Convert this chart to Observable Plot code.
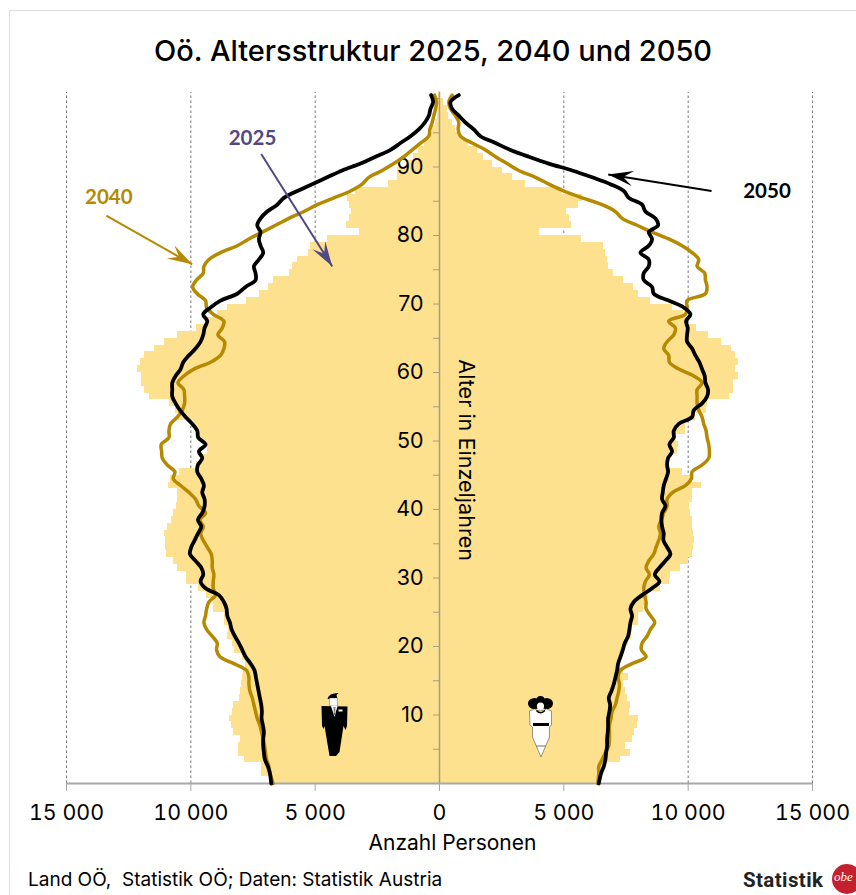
<!DOCTYPE html>
<html lang="de">
<head>
<meta charset="utf-8">
<script src="https://cdn.jsdelivr.net/npm/d3@7"></script>
<script src="https://cdn.jsdelivr.net/npm/@observablehq/plot@0.6"></script>
<style>
html,body{margin:0;padding:0;background:#fff;}
body{width:856px;height:895px;overflow:hidden;position:relative;font-family:Inter,"Liberation Sans",sans-serif;color:#000;}
#frame{position:absolute;left:9px;top:10px;width:900px;height:900px;border:1px solid #dedede;box-sizing:border-box;}
#title{position:absolute;left:0;top:32px;width:866px;text-align:center;font-size:29px;line-height:38px;font-weight:500;}
#chart{position:absolute;left:0;top:85px;}
#source{position:absolute;left:28px;top:869px;font-size:19px;line-height:22px;white-space:pre;}
#logoText{position:absolute;left:743px;top:868px;font:700 20.5px/24px Roboto,sans-serif;color:#222;letter-spacing:.4px;}
#logo{position:absolute;left:832px;top:864px;width:30px;height:30px;border-radius:50%;background:#c4202e;color:#fff;font:italic 13px/26px "Liberation Serif",serif;text-indent:2px;overflow:hidden;}
</style>
</head>
<body>
<div id="frame"></div>
<div id="title">Oö. Altersstruktur 2025, 2040 und 2050</div>
<div id="chart"></div>
<div id="source">Land OÖ,  Statistik OÖ; Daten: Statistik Austria</div>
<div id="logoText">Statistik</div>
<div id="logo">obe</div>
<script>
// Persons per single year of age, index = age 0..100
const men2025 = [6794,7142,7142,7839,8080,8080,8000,8268,8375,8429,8335,8295,8053,8000,7960,7933,7893,7799,7933,8241,8321,8509,8469,8643,8643,9072,9072,9367,9688,10171,10171,10519,10680,10975,11001,11001,11055,10948,10787,10707,10573,10519,10519,10894,10814,10439,9769,9608,9340,9340,9675,9675,9876,10479,10613,10841,11645,11859,11993,11993,12127,12020,11859,11457,11055,10546,9769,9340,8938,8536,7759,7223,6861,6660,6017,5909,5695,5266,5186,4516,3203,3739,3605,3551,3631,3712,3377,2064,1675,1675,1300,1032,831,603,362,295,161,94,67,27,27];
const women2025 = [6405,6472,6606,7276,7692,7477,7745,7826,7960,7986,7638,7678,7544,7477,7410,7584,7410,7276,7343,7450,7584,7718,7772,7986,8013,8214,8348,8415,8884,9246,9286,9688,10023,10157,10224,10264,10224,10184,10157,10090,10050,10157,10157,10532,10157,9782,9219,9152,9554,9594,9514,9889,9889,10291,10720,10760,11658,11832,11832,12033,11899,12033,11899,11738,11336,10827,10318,10023,9822,9380,8482,7986,7812,7410,7008,6807,6740,6673,6606,5695,4020,5306,5226,5092,5601,5735,4931,3457,2921,2519,2117,1782,1514,1152,844,643,509,375,308,174,40];
const men2040 = [6687,6821,6861,6955,6995,7035,7089,7156,7223,7330,7397,7464,7531,7625,7665,7665,7759,8268,8831,8965,8938,9139,9367,9474,9407,9367,9273,9005,9099,9099,9072,9139,9139,9179,9340,9501,9608,9501,9635,9407,9675,9809,10077,10412,10707,10640,10948,11149,11176,11189,10881,10881,10814,10546,10345,10251,10251,10278,10519,10278,9876,9206,8804,8670,8643,8911,8737,8670,9099,9367,9407,9742,9929,9769,9501,9474,9273,8804,8134,7665,7129,6593,6057,5454,4918,4248,3578,3109,2841,2305,1836,1434,1099,764,429,389,295,228,161,121,201];
const women2040 = [6365,6405,6405,6539,6673,6807,6834,6834,6834,6901,6941,7075,7142,7209,7236,7182,7276,7745,8308,8120,8147,8348,8482,8656,8482,8308,8308,8254,8214,8281,8442,8308,8415,8616,8710,8817,8884,8817,8924,9018,9152,9152,9380,9889,10130,10157,10559,10827,10854,10827,10760,10720,10626,10559,10425,10358,10358,10358,10559,10224,9621,9246,9219,9018,9152,9420,9487,9219,9889,9956,9956,10693,10760,10693,10666,10358,10425,10157,9755,9219,8549,7946,7343,7075,6539,5735,4998,4395,3859,3189,2720,2251,1849,1313,844,750,777,643,442,375,509];
const men2050 = [6767,6821,6901,7022,7062,7089,7089,7062,7102,7156,7142,7169,7223,7276,7330,7383,7437,7598,7799,7933,8067,8228,8362,8429,8536,8563,8670,8871,9407,9608,9501,9581,9809,10037,9983,9849,9715,9581,9715,9541,9447,9447,9541,9474,9581,9742,9715,9541,9675,9407,9702,9742,9943,10211,10439,10613,10747,10747,10747,10613,10412,10305,10077,9809,9608,9501,9447,9340,9501,9206,8804,8134,7799,7397,7397,7464,7263,7089,7196,7263,7196,7330,7196,6928,6526,6258,5722,5119,4516,3913,3176,2573,1970,1568,1166,831,590,429,362,255,335];
const women2050 = [6405,6499,6606,6673,6700,6740,6740,6767,6780,6780,6834,6861,6807,6914,7008,7075,7142,7182,7276,7370,7450,7584,7638,7678,7745,7678,7812,8147,8549,8844,8656,8844,9085,9286,9152,9005,9018,8951,8924,8951,9085,8951,8978,9018,9112,9192,9152,9192,9353,9246,9420,9420,9621,10157,10224,10559,10760,10800,10693,10666,10559,10452,10291,10157,9956,9956,9983,9916,10090,9822,9219,8616,8549,8214,8214,8415,8415,8080,8415,8549,8415,8790,8683,8281,8147,7611,7410,6874,6137,5333,4395,3591,2854,2251,1648,1380,1045,777,509,442,777];

const xTicks = [-15000,-10000,-5000,0,5000,10000,15000];
const gridValues = [-15000,-10000,-5000,5000,10000,15000];
const ageMinor = [0,5,10,15,20,25,30,35,40,45,50,55,60,65,70,75,80,85,90,95,100];
const ageLabels = [10,20,30,40,50,60,70,80,90];

const seriesLabels = [
  {text:"2040", x:-13300, y:85.6, color:"#B58900"},
  {text:"2025", x:-7520, y:94.2, color:"#4F4A86"},
  {text:"2050", x:13170, y:86.4, color:"#000000"}
];
const arrows = [
  {x1:-13400, y1:82.9, x2:-9945, y2:75.8, color:"#B58900", rotate:119.8},
  {x1:-7170, y1:91.9, x2:-4315, y2:75.5, color:"#4F4A86", rotate:147.6},
  {x1:10940, y1:86.5, x2:6785, y2:88.9, color:"#000000", rotate:279.2}
];

const GOLD = "#B58900";
const BAR = "#FEE18F";
const stealth = {draw(c){c.moveTo(0,0);c.lineTo(7.6,25);c.lineTo(0,15);c.lineTo(-7.6,25);c.closePath();}};

const manSvg = `<svg xmlns="http://www.w3.org/2000/svg" viewBox="0 0 50 75"><path d="M17 13 Q18 7 28 7 L26 9 Q27 11 26 13Z" fill="#000"/><path d="M19 12h8v8h-8z" fill="#fff" stroke="#444" stroke-width=".4"/><path d="M11 20 L37 20.5 L36.5 40 L35 44 L33 40 L29 66 L25.5 70 L24 70 L19 70 L14 40 L13 43 L11.5 40Z" fill="#000"/><path d="M20.5 20 L27 20 L24 31Z" fill="#fff"/><path d="M23 21 h2 l-.5 8 h-1z" fill="#777"/><path d="M28 23.5h4v2h-4z" fill="#fff"/></svg>`;
const womanSvg = `<svg xmlns="http://www.w3.org/2000/svg" viewBox="0 0 50 75"><ellipse cx="19" cy="17.5" rx="6.5" ry="5.5" fill="#000"/><ellipse cx="31" cy="17.5" rx="6.5" ry="5.5" fill="#000"/><circle cx="25" cy="14" r="4" fill="#000"/><circle cx="25" cy="20" r="3.6" fill="#fff"/><path d="M14 25 L19 23 Q25 27 31 23 L36 25 L36 39 L34 41 L34 51 L25.5 71 L17 51 L17 41 L14.5 39Z" fill="#fff" stroke="#333" stroke-width=".5"/><path d="M17.5 37h16v3h-16z" fill="#000"/><path d="M21 60 h9" stroke="#333" stroke-width=".7"/><path d="M21 24.5 Q25 29 29.5 24.5" fill="none" stroke="#000" stroke-width="1.6"/></svg>`;
const figures = [
  {x:-4182, y:8.76, src:"data:image/svg+xml;utf8," + encodeURIComponent(manSvg)},
  {x:4061, y:8.76, src:"data:image/svg+xml;utf8," + encodeURIComponent(womanSvg)}
];

const ages = d3.range(men2025.length);
const yMax = 100.88;
const lineY = i => i === 0 ? 0 : i + 0.5;
const tickLen = 240;
const fmt = d => String(Math.abs(d)).replace(/\B(?=(\d{3})+$)/g, " ");

const lineMark = (values, sign, stroke, strokeWidth) =>
  Plot.line(ages, {x: i => sign * values[i], y: lineY, stroke, strokeWidth, curve: "catmull-rom", strokeLinejoin: "round"});

const chart = Plot.plot({
  width: 856, height: 770,
  marginLeft: 66, marginRight: 44, marginTop: 7, marginBottom: 72,
  style: {fontFamily: "Inter,'Liberation Sans',sans-serif", background: "transparent", overflow: "visible"},
  x: {domain: [-15000, 15000]},
  y: {domain: [0, yMax], axis: null},
  marks: [
    Plot.ruleX(gridValues, {y1: 0, y2: yMax, stroke: "#777", strokeWidth: 1, strokeDasharray: "2.5 2.5"}),
    Plot.rect(ages, {x1: i => -men2025[i], x2: 0, y1: i => i, y2: i => i + 1, fill: BAR, shapeRendering: "crispEdges"}),
    Plot.rect(ages, {x1: 0, x2: i => women2025[i], y1: i => i, y2: i => i + 1, fill: BAR, shapeRendering: "crispEdges"}),
    Plot.ruleX([0], {y1: 0, y2: yMax, stroke: "#a89d80", strokeWidth: 1.5}),
    Plot.ruleY(ageMinor, {x1: -tickLen, x2: 0, stroke: "#a89d80", strokeWidth: 1}),
    Plot.ruleY([0], {x1: -15000, x2: 15000, stroke: "#a8a8a8", strokeWidth: 2}),
    Plot.axisX({anchor: "bottom", ticks: xTicks, tickFormat: fmt, tickSize: 8, tickPadding: 13, fontSize: 21.4, stroke: "#a8a8a8", label: null}),
    Plot.text(ageLabels, {x: 0, y: d => d, text: d => String(d), dx: -16, textAnchor: "end", fontSize: 21.4, fill: "#000"}),
    Plot.text(["Alter in Einzeljahren"], {x: 1045, y: 47.2, text: d => d, rotate: 90, fontSize: 21.6, fill: "#000"}),
    Plot.text(["Anzahl Personen"], {x: 520, y: 0, text: d => d, dy: 60, fontSize: 21, fill: "#000"}),
    lineMark(men2040, -1, GOLD, 3.5),
    lineMark(women2040, 1, GOLD, 3.5),
    lineMark(men2050, -1, "#000", 3.8),
    lineMark(women2050, 1, "#000", 3.8),
    Plot.image(figures, {x: "x", y: "y", src: "src", width: 50, height: 75}),
    Plot.link(arrows, {x1: "x1", y1: "y1", x2: "x2", y2: "y2", stroke: "color", strokeWidth: 2}),
    Plot.dot(arrows, {x: "x2", y: "y2", symbol: stealth, rotate: "rotate", fill: "color", stroke: "none"}),
    Plot.text(seriesLabels, {x: "x", y: "y", text: "text", fill: "color", fontSize: 20.5, fontWeight: 700, fontFamily: "Lato,sans-serif"})
  ]
});
document.getElementById("chart").appendChild(chart);
</script>
</body>
</html>
